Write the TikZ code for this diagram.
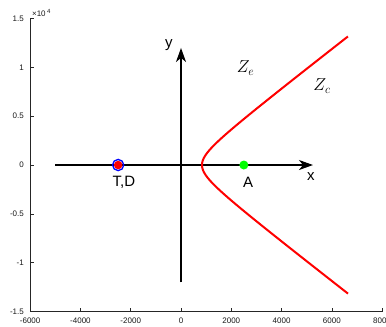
\documentclass[tikz,border=0pt]{standalone}
\usepackage{fontspec}
\setmainfont{Liberation Sans}
\usepackage{xcolor}
\usetikzlibrary{arrows.meta}
\definecolor{pgreen}{rgb}{0,1,0}

\begin{document}
\begin{tikzpicture}[
  x=25.14pt, y=97.7pt,
  frame/.style={draw=black!85, line width=0.6pt},
  ticklbl/.style={font=\fontsize{8}{9}\selectfont, inner sep=0pt, text=black!90},
  axis/.style={-{Stealth[length=14pt, width=10pt, inset=4pt]}, line width=1.2pt},
  lbl/.style={font=\fontsize{15}{18}\selectfont, inner sep=0pt},
  zlbl/.style={font=\fontsize{17}{20}\selectfont, inner sep=0pt}
]
  \useasboundingbox (-7.2,-1.658) rectangle (8.154,1.689);

  % plot frame (left and bottom only)
  \draw[frame] (-6,1.5) -- (-6,-1.5) -- (8,-1.5);
  \foreach \x in {-6,-4,...,8} {
    \draw[frame] (\x,-1.5) -- ++(0pt,3.5pt);
    \node[ticklbl] (tx\x) at (\x,-1.597) {\pgfmathparse{int(\x*1000)}\pgfmathresult};
  }
  \foreach \y/\t in {-1.5/-1.5,-1/-1,-0.5/-0.5,0/0,0.5/0.5,1/1,1.5/1.5} {
    \draw[frame] (-6,\y) -- ++(3.5pt,0pt);
    \node[ticklbl, anchor=east] (ty\t) at (-6.245,\y) {\t};
  }
  \node[ticklbl, anchor=base west] (scale) at (-5.93,1.52) {×10\,\textsuperscript{4}};

  % axes
  \coordinate (xl) at (-5,0);
  \coordinate (xr) at (5.25,0);
  \coordinate (yb) at (0,-1.2);
  \coordinate (yt) at (0,1.198);
  \draw[axis] (xl) -- (xr);
  \draw[axis] (yb) -- (yt);
  \node[lbl] (xlbl) at (5.17,-0.113) {x};
  \node[lbl] (ylbl) at (-0.48,1.228) {y};

  % hyperbola branch
  \draw[red, line width=2pt, smooth, samples=120, domain=-2.763:2.763, variable=\t]
    plot ({0.835*cosh(\t)},{0.1668*sinh(\t)});

  % points
  \node[circle, fill=red, minimum size=8.6pt, inner sep=0pt] (td) at (-2.5,0) {};
  \draw[blue, line width=1.3pt] (td.center) circle (5.6pt);
  \node[circle, fill=pgreen, minimum size=9pt, inner sep=0pt] (a) at (2.5,0) {};
  \node[lbl] (tdlbl) at (-2.27,-0.18) {T,D};
  \node[lbl] (albl) at (2.665,-0.18) {A};

  \node[zlbl] (ze) at (2.566,0.995) {$Z_e$};
  \node[zlbl] (zc) at (5.61,0.81) {$Z_c$};
\end{tikzpicture}
\end{document}
